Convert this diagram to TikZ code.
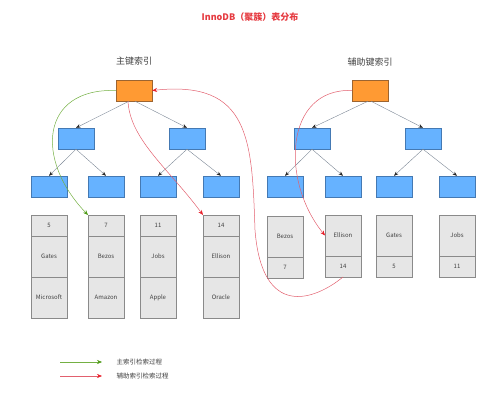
\documentclass[tikz,border=0pt]{standalone}
\usepackage{fontspec}
\setmainfont{Noto Sans CJK SC}
\usetikzlibrary{positioning, arrows.meta}

\definecolor{wurzel}{HTML}{FF9A33}
\definecolor{wurzelrand}{HTML}{9C6430}
\definecolor{knoten}{HTML}{66B2FF}
\definecolor{knotenrand}{HTML}{4479B3}
\definecolor{zelle}{HTML}{E6E6E6}
\definecolor{zellrand}{HTML}{8A8A8A}
\definecolor{ast}{HTML}{7D8896}
\definecolor{rotpfad}{HTML}{E2606E}
\definecolor{rotspitze}{HTML}{E8202A}
\definecolor{gruenpfad}{HTML}{74B043}
\definecolor{gruenspitze}{HTML}{4E9A16}
\definecolor{titel}{HTML}{E53A40}

\begin{document}
\begin{tikzpicture}[
			x=1pt, y=-1pt,
			wurzelbox/.style={draw=wurzelrand, fill=wurzel, minimum width=36pt, minimum height=21pt, inner sep=0pt},
			knotenbox/.style={draw=knotenrand, fill=knoten, minimum width=36pt, minimum height=21pt, inner sep=0pt},
			zellbox/.style={draw=zellrand, fill=zelle, minimum width=36pt, inner sep=0pt, outer sep=0pt, font=\fontsize{6}{7}\selectfont, text=black!75, node distance=0pt},
			kurz/.style={zellbox, minimum height=21pt},
			lang/.style={zellbox, minimum height=41pt},
			baum/.style={color=ast, line width=0.4pt, -{Stealth[length=4.5pt, width=3.5pt, color=black!85]}},
			rotweg/.style={draw=rotpfad, line width=0.5pt, -{Stealth[length=5pt, width=4pt, color=rotspitze]}},
			gruenweg/.style={draw=gruenpfad, line width=0.5pt, -{Stealth[length=5pt, width=4pt, color=gruenspitze]}},
			]
			\useasboundingbox (0,0) rectangle (499,404);
			
			% Überschriften
			\node[font=\fontsize{9}{10}\selectfont\bfseries, text=titel] (Titel) at (250,17) {InnoDB（聚簇）表分布};
			\node[font=\fontsize{9}{10}\selectfont, text=black!75] (PTitel) at (134,61) {主键索引};
			\node[font=\fontsize{9}{10}\selectfont, text=black!75] (STitel) at (370,62) {辅助键索引};
			
			% Primärindex
			\node[wurzelbox] (PR) at (134,90.5) {};
			\node[knotenbox] (PA) at (76,138.5) {};
			\node[knotenbox] (PB) at (187,138.5) {};
			\node[knotenbox] (PA1) at (49,186.5) {};
			\node[knotenbox] (PA2) at (106,186.5) {};
			\node[knotenbox] (PB1) at (158,186.5) {};
			\node[knotenbox] (PB2) at (221,186.5) {};
			
			\node[kurz] (P5a) at (49,225.5) {5};
			\node[lang, below=of P5a] (P5b) {Gates};
			\node[lang, below=of P5b] (P5c) {Microsoft};
			\node[kurz] (P7a) at (106,225.5) {7};
			\node[lang, below=of P7a] (P7b) {Bezos};
			\node[lang, below=of P7b] (P7c) {Amazon};
			\node[kurz] (P11a) at (158,225.5) {11};
			\node[lang, below=of P11a] (P11b) {Jobs};
			\node[lang, below=of P11b] (P11c) {Apple};
			\node[kurz] (P14a) at (221,225.5) {14};
			\node[lang, below=of P14a] (P14b) {Ellison};
			\node[lang, below=of P14b] (P14c) {Oracle};
			
			% Sekundärindex
			\node[wurzelbox] (SR) at (370,90.5) {};
			\node[knotenbox] (SA) at (312,138.5) {};
			\node[knotenbox] (SB) at (423,138.5) {};
			\node[knotenbox] (SA1) at (285,186.5) {};
			\node[knotenbox] (SA2) at (343,186.5) {};
			\node[knotenbox] (SB1) at (394,186.5) {};
			\node[knotenbox] (SB2) at (457,186.5) {};
			
			\node[lang] (SBezos) at (285,236.5) {Bezos};
			\node[kurz, below=of SBezos] (S7) {7};
			\node[lang] (SEllison) at (343,235.5) {Ellison};
			\node[kurz, below=of SEllison] (S14) {14};
			\node[lang] (SGates) at (394,235.5) {Gates};
			\node[kurz, below=of SGates] (S5) {5};
			\node[lang] (SJobs) at (457,235.5) {Jobs};
			\node[kurz, below=of SJobs] (S11) {11};
			
			% Baumkanten
			\path[baum]
			([xshift=-5pt]PR.south) edge (PA.north)
			([xshift=1pt]PR.south) edge (PB.north)
			(PA.south) edge (PA1.north)
			(PA.south) edge (PA2.north)
			(PB.south) edge (PB1.north)
			(PB.south) edge (PB2.north)
			([xshift=-2pt]SR.south) edge (SA.north)
			([xshift=1pt]SR.south) edge (SB.north)
			(SA.south) edge (SA1.north)
			(SA.south) edge (SA2.north)
			(SB.south) edge (SB1.north)
			(SB.south) edge (SB2.north)
			;
			
			% Suchwege
			\draw[gruenweg] (PR.west) .. controls (40,88) and (35,160) .. (P7a.north west);
			\draw[rotweg] ([xshift=-6pt]PR.south) .. controls (130,140) and (170,170) .. (P14a.north west);
			\draw[rotweg] (SR.west) .. controls (285,88) and (280,180) .. (SEllison.west);
			\draw[rotweg] (S14.south) .. controls (315,300) and (262,320) .. (255,230)
			.. controls (252,140) and (250,80) .. (PR.east);
			
			% Legende
			\coordinate (G0) at (60,362);
			\coordinate (G1) at (102,362);
			\coordinate (R0) at (60,376);
			\coordinate (R1) at (102,376);
			\node[anchor=west, font=\fontsize{6.5}{7}\selectfont, text=black!75] (GText) at (113,362) {主索引检索过程};
			\node[anchor=west, font=\fontsize{6.5}{7}\selectfont, text=black!75] (RText) at (113,376) {辅助索引检索过程};
			\draw[gruenweg] (G0) -- (G1);
			\draw[rotweg] (R0) -- (R1);
			
		\end{tikzpicture}
\end{document}
